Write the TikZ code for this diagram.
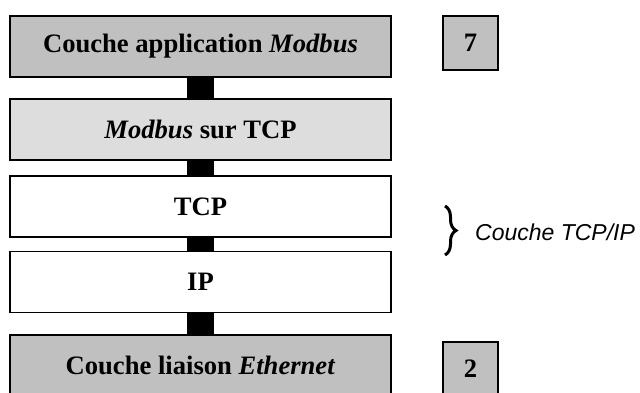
\documentclass[tikz,border=0pt]{standalone}
\usepackage{fontspec}
\setmainfont{Liberation Serif}
\setsansfont{Liberation Sans}
\usetikzlibrary{decorations.pathreplacing}
\definecolor{gdark}{RGB}{192,192,192}
\definecolor{glight}{RGB}{221,221,221}
\tikzset{
  layer/.style={draw=black, line width=1.6pt, minimum width=381pt, minimum height=61pt,
    inner sep=0pt, font=\fontsize{26.6}{31}\selectfont\bfseries},
  num/.style={draw=black, line width=1.6pt, fill=gdark, minimum width=55pt, minimum height=54pt,
    inner sep=0pt, font=\fontsize{26.6}{31}\selectfont\bfseries},
  conn/.style={line width=27pt, black, line cap=butt},
}
\begin{document}
\begin{tikzpicture}[x=1pt,y=-1pt]
\clip (0,0) rectangle (640,392);
\useasboundingbox (0,0) rectangle (640,392);
\coordinate (c1) at (200.5,77);
\coordinate (c2) at (200.5,99);
\coordinate (c3) at (200.5,160);
\coordinate (c4) at (200.5,176);
\coordinate (c5) at (200.5,237);
\coordinate (c6) at (200.5,251);
\coordinate (c7) at (200.5,313);
\coordinate (c8) at (200.5,335);
\draw[conn] (c1) -- (c2);
\draw[conn] (c3) -- (c4);
\draw[conn] (c5) -- (c6);
\draw[conn] (c7) -- (c8);
\node[layer, fill=gdark] (app) at (200.5,46.5) {Couche application \textit{Modbus}};
\node[layer, fill=glight] (mod) at (200.5,129.5) {\textit{Modbus} sur TCP};
\node[layer, fill=white] (tcp) at (200.5,206.5) {TCP};
\node[layer, fill=white] (ip) at (200.5,282) {IP};
\node[layer, fill=gdark] (eth) at (200.5,365.5) {Couche liaison \textit{Ethernet}};
\node[num] (n7) at (470.5,43) {7};
\node[num] (n2) at (470.5,369) {2};
\coordinate (bt) at (445,206);
\coordinate (bb) at (445,255);
\draw[line width=3pt, decorate, decoration={brace, amplitude=11pt, aspect=0.5}] (bt) -- (bb);
\node[anchor=west, inner sep=0pt, font=\sffamily\itshape\fontsize{23}{27}\selectfont] (lbl) at (475,232) {Couche TCP/IP};
\end{tikzpicture}
\end{document}
